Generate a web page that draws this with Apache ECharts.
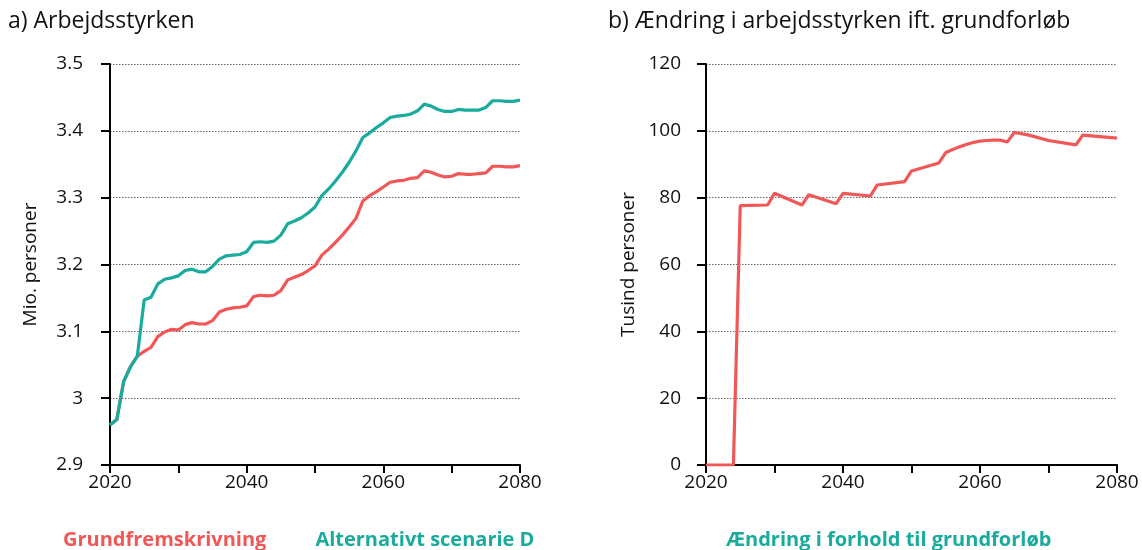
<!DOCTYPE html>
<html>
<head>
<meta charset="utf-8">
<script src="https://cdn.jsdelivr.net/npm/echarts@6/dist/echarts.min.js"></script>
<style>
html,body{margin:0;padding:0;background:#fff;}
#c{width:1142px;height:550px;}
</style>
</head>
<body>
<div id="c"></div>
<script>
// ---- Data ----
const years = [];
for (let y = 2020; y <= 2080; y++) years.push(y);

const grundfremskrivning = [
  2.960, 2.968, 3.025, 3.047, 3.063, 3.070, 3.076, 3.092, 3.099, 3.103,
  3.102, 3.110, 3.113, 3.111, 3.111, 3.116, 3.129, 3.133, 3.135, 3.136,
  3.138, 3.152, 3.154, 3.153, 3.154, 3.161, 3.177, 3.181, 3.185, 3.191,
  3.198, 3.214, 3.223, 3.233, 3.244, 3.256, 3.269, 3.295, 3.303, 3.309,
  3.316, 3.323, 3.325, 3.326, 3.329, 3.330, 3.340, 3.338, 3.334, 3.331,
  3.332, 3.336, 3.335, 3.335, 3.336, 3.337, 3.347, 3.347, 3.346, 3.346,
  3.348
];

const scenarieD = [
  2.960, 2.968, 3.025, 3.047, 3.063, 3.147, 3.151, 3.171, 3.178, 3.180,
  3.183, 3.191, 3.193, 3.189, 3.189, 3.197, 3.208, 3.213, 3.214, 3.215,
  3.219, 3.233, 3.234, 3.233, 3.235, 3.244, 3.261, 3.265, 3.270, 3.277,
  3.286, 3.303, 3.313, 3.325, 3.338, 3.353, 3.370, 3.390, 3.397, 3.405,
  3.412, 3.420, 3.422, 3.423, 3.425, 3.430, 3.440, 3.437, 3.432, 3.429,
  3.429, 3.432, 3.431, 3.431, 3.431, 3.435, 3.445, 3.445, 3.444, 3.444,
  3.446
];

const diffYears = [2020, 2024, 2025, 2029, 2030, 2034, 2035, 2039, 2040, 2044,
  2045, 2049, 2050, 2054, 2055, 2056, 2057, 2058, 2059, 2060,
  2061, 2062, 2063, 2064, 2065, 2067, 2070, 2074, 2075, 2080];
const diffValues = [0, 0, 77.6, 77.8, 81.3, 77.8, 80.9, 78.2, 81.3, 80.5,
  83.8, 84.8, 88.0, 90.4, 93.5, 94.4, 95.2, 95.9, 96.5, 96.9,
  97.1, 97.2, 97.2, 96.7, 99.5, 98.8, 97.1, 95.8, 98.7, 97.8];

const xTicks = [2020, 2040, 2060, 2080];
const leftYTicks = ['2.9', '3', '3.1', '3.2', '3.3', '3.4', '3.5'];

const RED = '#f25757';
const TEAL = '#19ab9d';
const FONT = '"Open Sans", "Noto Sans", sans-serif';

function pairs(xs, ys) { return xs.map((x, i) => [x, ys[i]]); }

function xAxis(gridIndex) {
  return {
    type: 'value', gridIndex, min: 2020, max: 2080, interval: 10,
    axisLine: { show: true, onZero: false, lineStyle: { color: '#000', width: 2 } },
    axisTick: { show: true, length: 8, lineStyle: { color: '#000', width: 2 } },
    axisLabel: {
      color: '#111', fontSize: 19, fontFamily: FONT, margin: 8,
      formatter: v => xTicks.includes(v) ? String(v) : ''
    },
    splitLine: { show: false }
  };
}

const dotted = { show: true, lineStyle: { color: '#666', width: 1, type: [1.5, 1.5] } };

const option = {
  animation: false,
  backgroundColor: '#fff',
  title: [
    { text: 'a) Arbejdsstyrken', left: 3, top: 5,
      textStyle: { fontFamily: FONT, fontSize: 23, fontWeight: 'normal', color: '#111' } },
    { text: 'b) Ændring i arbejdsstyrken ift. grundforløb', left: 603, top: 5,
      textStyle: { fontFamily: FONT, fontSize: 23, fontWeight: 'normal', color: '#111' } }
  ],
  legend: [
    { left: 53, top: 525, icon: 'none', itemWidth: 0, itemGap: 44,
      textStyle: { fontFamily: FONT, fontSize: 20, fontWeight: 'bold' },
      data: [
        { name: 'Grundfremskrivning', textStyle: { color: RED } },
        { name: 'Alternativt scenarie D', textStyle: { color: TEAL } }
      ] },
    { left: 716, top: 525, icon: 'none', itemWidth: 0,
      textStyle: { fontFamily: FONT, fontSize: 20, fontWeight: 'bold' },
      data: [ { name: 'Ændring i forhold til grundforløb', textStyle: { color: TEAL } } ] }
  ],
  grid: [
    { left: 110, right: 622, top: 64, bottom: 85 },
    { left: 706, right: 25, top: 64, bottom: 85 }
  ],
  xAxis: [xAxis(0), xAxis(1)],
  yAxis: [
    { type: 'value', gridIndex: 0, min: 2.9, max: 3.5, interval: 0.1,
      name: 'Mio. personer', nameLocation: 'middle', nameGap: 70, nameRotate: 90,
      nameTextStyle: { fontFamily: FONT, fontSize: 19, color: '#111' },
      axisLine: { show: true, lineStyle: { color: '#000', width: 2 } },
      axisTick: { show: true, length: 9, lineStyle: { color: '#000', width: 2 } },
      axisLabel: { color: '#111', fontSize: 19, fontFamily: FONT, margin: 27,
        formatter: v => leftYTicks.find(t => Math.abs(parseFloat(t) - v) < 1e-6) || '' },
      splitLine: dotted },
    { type: 'value', gridIndex: 1, min: 0, max: 120, interval: 20,
      name: 'Tusind personer', nameLocation: 'middle', nameGap: 68, nameRotate: 90,
      nameTextStyle: { fontFamily: FONT, fontSize: 19, color: '#111' },
      axisLine: { show: true, lineStyle: { color: '#000', width: 2 } },
      axisTick: { show: true, length: 9, lineStyle: { color: '#000', width: 2 } },
      axisLabel: { color: '#111', fontSize: 19, fontFamily: FONT, margin: 25 },
      splitLine: dotted }
  ],
  series: [
    { name: 'Grundfremskrivning', type: 'line', xAxisIndex: 0, yAxisIndex: 0,
      data: pairs(years, grundfremskrivning), showSymbol: false, symbol: 'none',
      lineStyle: { color: RED, width: 3.2 }, itemStyle: { color: RED }, z: 3 },
    { name: 'Alternativt scenarie D', type: 'line', xAxisIndex: 0, yAxisIndex: 0,
      data: pairs(years, scenarieD), showSymbol: false, symbol: 'none',
      lineStyle: { color: TEAL, width: 3.2 }, itemStyle: { color: TEAL }, z: 4 },
    { name: 'Ændring i forhold til grundforløb', type: 'line', xAxisIndex: 1, yAxisIndex: 1,
      data: pairs(diffYears, diffValues), showSymbol: false, symbol: 'none',
      lineStyle: { color: RED, width: 3.2 }, itemStyle: { color: RED }, z: 3 }
  ]
};

const chart = echarts.init(document.getElementById('c'), null, { renderer: 'canvas' });
chart.setOption(option);
</script>
</body>
</html>
